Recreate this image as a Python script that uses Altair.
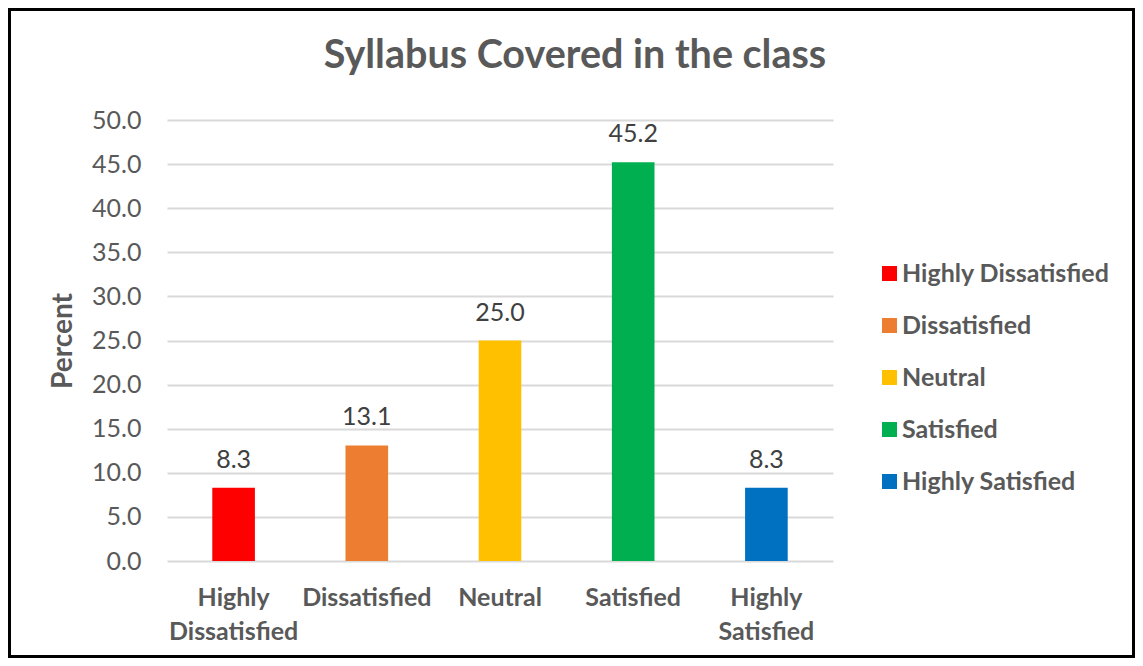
import altair as alt
import pandas as pd

title_text = "Syllabus Covered in the class"
categories = ["Highly Dissatisfied", "Dissatisfied", "Neutral", "Satisfied", "Highly Satisfied"]
percents = [8.3, 13.1, 25.0, 45.2, 8.3]
colors = ["#FF0000", "#ED7D31", "#FFC000", "#00B050", "#0070C0"]
y_ticks = [0, 5, 10, 15, 20, 25, 30, 35, 40, 45, 50]

df = pd.DataFrame({"Category": categories, "Percent": percents})

FONT = "Lato"
GRAY = "#595959"

x_enc = alt.X(
    "Category:N",
    sort=categories,
    scale=alt.Scale(paddingInner=0.68, paddingOuter=0.34),
    axis=alt.Axis(
        title=None,
        labelAngle=0,
        labelExpr="split(datum.label, ' ')",
        labelFont=FONT,
        labelFontSize=25,
        labelFontWeight="bold",
        labelColor=GRAY,
        labelLineHeight=34,
        labelPadding=24,
        labelLimit=0,
        ticks=False,
        domain=False,
    ),
)

y_enc = alt.Y(
    "Percent:Q",
    scale=alt.Scale(domain=[0, 50], nice=False),
    axis=alt.Axis(
        values=y_ticks,
        format=".1f",
        title="Percent",
        titleFont=FONT,
        titleFontSize=28,
        titleFontWeight="bold",
        titleColor=GRAY,
        titlePadding=14,
        labelFont=FONT,
        labelFontSize=25,
        labelColor=GRAY,
        labelPadding=26,
        ticks=False,
        domain=False,
        grid=True,
        gridColor="#D9D9D9",
        gridWidth=2,
    ),
)

bars = alt.Chart(df).mark_bar().encode(
    x=x_enc,
    y=y_enc,
    color=alt.Color(
        "Category:N",
        sort=categories,
        scale=alt.Scale(domain=categories, range=colors),
        legend=alt.Legend(
            title=None,
            orient="none",
            legendX=710,
            legendY=141,
            symbolType="square",
            symbolSize=225,
            symbolStrokeWidth=0,
            labelFont=FONT,
            labelFontSize=25,
            labelFontWeight="bold",
            labelColor=GRAY,
            labelOffset=0,
            labelLimit=0,
            rowPadding=26,
            padding=0,
        ),
    ),
)

labels = alt.Chart(df).mark_text(
    font=FONT, fontSize=25, color="#404040", baseline="alphabetic", dy=-20
).encode(
    x=alt.X("Category:N", sort=categories),
    y=alt.Y("Percent:Q"),
    text=alt.Text("Percent:Q", format=".1f"),
)

title_df = pd.DataFrame({"t": [title_text]})
title = alt.Chart(title_df).mark_text(
    font=FONT, fontSize=39.5, fontWeight="bold", color=GRAY,
    align="center", baseline="alphabetic", clip=False,
).encode(
    x=alt.value(408),
    y=alt.value(-52),
    text="t:N",
)

border_df = pd.DataFrame({"b": [1]})
border = alt.Chart(border_df).mark_rect(
    fill=None, stroke="black", strokeWidth=3, clip=False
).encode(
    x=alt.value(-157.5),
    x2=alt.value(966.5),
    y=alt.value(-110.5),
    y2=alt.value(536.5),
)

chart = alt.layer(bars, labels, title, border).properties(
    width=666,
    height=441,
    autosize=alt.AutoSizeParams(type="none"),
    padding={"left": 159, "top": 112, "right": 302, "bottom": 97},
).configure(background="white").configure_view(stroke=None)

chart.save("out.html", embed_options={"renderer": "svg", "actions": False})
